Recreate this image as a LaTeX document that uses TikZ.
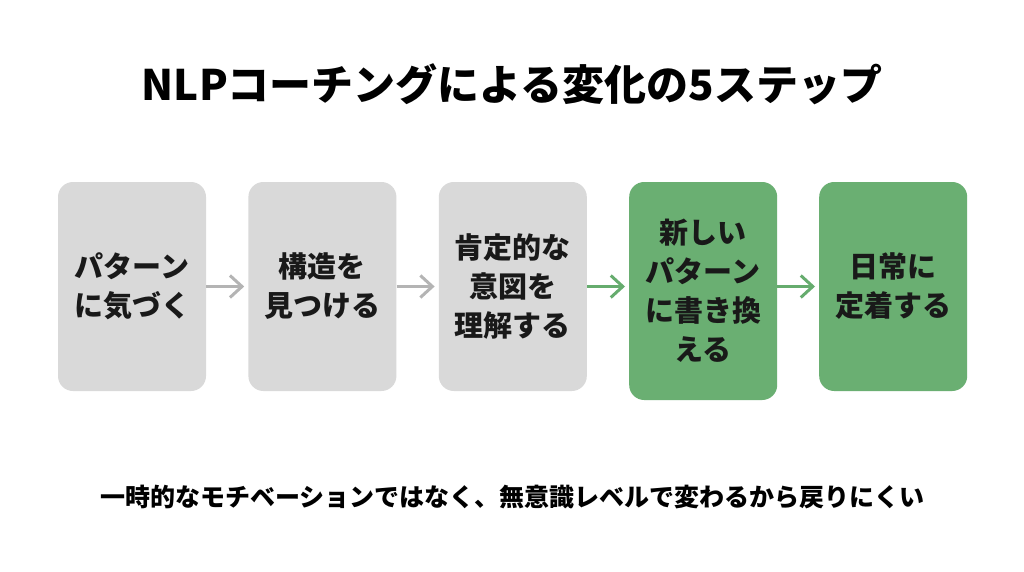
\documentclass[tikz,border=0pt]{standalone}
\usepackage{fontspec}
\setmainfont{Noto Sans CJK JP}
\usetikzlibrary{positioning, arrows.meta}
\definecolor{boxgray}{HTML}{D9D9D9}
\definecolor{boxgreen}{HTML}{6AAF72}
\definecolor{arrowgray}{HTML}{B4B4B4}
\definecolor{arrowgreen}{HTML}{66AC6E}
\tikzset{
    x=1pt, y=-1pt, % one unit is one pixel of the target, y runs down
    stepbox/.style={rounded corners=15pt, minimum width=148pt, minimum height=209pt,
        inner sep=0pt, align=center, text=black!90,
        font=\fontsize{29}{39}\selectfont\bfseries}, % sets the properties for each step
    graybox/.style={stepbox, fill=boxgray},
    greenbox/.style={stepbox, fill=boxgreen},
    stepline/.style={line width=3pt, shorten >=4pt,
        -{Straight Barb[length=12pt, width=22pt]}}, % the connectors between steps
    node distance=42pt, % gap between two steps
}
\begin{document}
\begin{tikzpicture}
    \fill[white] (0,0) rectangle (1024,572);
    \useasboundingbox (0,0) rectangle (1024,572);
    \node[font=\fontsize{42}{48}\selectfont\bfseries] (title) at (512,84) {NLPコーチングによる変化の5ステップ};
    \node[graybox] (s1) at (132,286.5) {パターン\\に気づく};
    \node[graybox, right=of s1] (s2) {構造を\\見つける};
    \node[graybox, right=of s2] (s3) {肯定的な\\意図を\\理解する};
    \node[greenbox, minimum height=218pt, right=of s3.north east, anchor=north west] (s4) {新しい\\パターン\\に書き換\\える};
    \node[greenbox, right=of s3.north east, xshift=190pt, anchor=north west] (s5) {日常に\\定着する};
    \node[font=\fontsize{25}{30}\selectfont\bfseries] (note) at (512,497) {一時的なモチベーションではなく、無意識レベルで変わるから戻りにくい};
    \draw[stepline, arrowgray] (s1) -- (s2);
    \draw[stepline, arrowgray] (s2) -- (s3);
    \draw[stepline, arrowgreen] (s3) -- (s3 -| s4.west);
    \draw[stepline, arrowgreen] (s3 -| s4.east) -- (s3 -| s5.west);
\end{tikzpicture}
\end{document}
